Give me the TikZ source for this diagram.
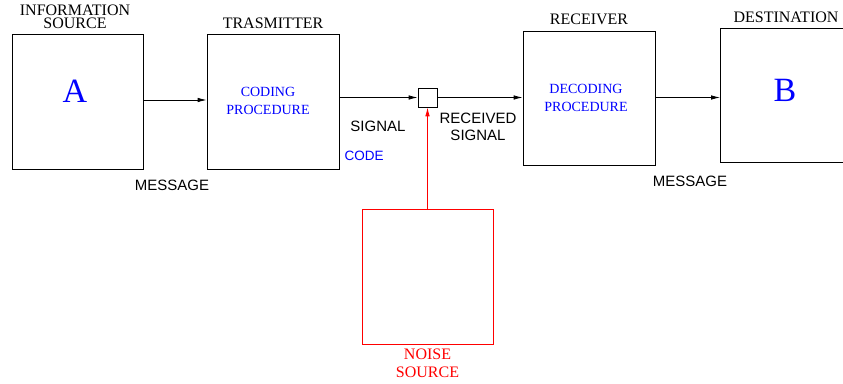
\documentclass[tikz,border=0pt]{standalone}
\usepackage{fontspec}
\setmainfont{Liberation Serif}
\setsansfont{Liberation Sans}
\usetikzlibrary{positioning,arrows.meta}

\begin{document}
\begin{tikzpicture}[
  x=1pt, y=1pt,
  block/.style={rectangle, draw, line width=0.8pt, minimum width=131pt,
                minimum height=135pt, inner sep=0pt},
  title/.style={inner sep=0pt, align=center, font=\fontsize{16}{13}\selectfont},
  tag/.style={inner sep=0pt, align=center, font=\fontsize{15}{17}\selectfont\sffamily},
  inside/.style={inner sep=0pt, align=center, text=blue,
                 font=\fontsize{14}{18}\selectfont},
  >={Latex[length=9pt,width=4.5pt]}, line width=0.8pt
]
  \clip (0,0) rectangle (843,383);

  \node[block] (src) at (77.5,281.5) {};
  \node[block, minimum width=132pt] (tx) at (273,281.5) {};
  \node[rectangle, draw, minimum size=19pt, inner sep=0pt] (mix) at (427.5,285.5) {};
  \node[block, minimum width=132pt, minimum height=134pt] (rx) at (589,285) {};
  \node[block, minimum height=134pt] (dst) at (786,288) {};
  \node[block, draw=red] (noise) at (427.5,106.5) {};

  % titles
  \node[title, above=5pt of src, xshift=-2.5pt] (srclbl) {INFORMATION\\SOURCE};
  \node[title, above=5pt of tx] (txlbl) {TRASMITTER};
  \node[title, above=5pt of rx] (rxlbl) {RECEIVER};
  \node[title, above=5pt of dst] (dstlbl) {DESTINATION};
  \node[title, text=red, below=4pt of noise, font=\fontsize{16}{18}\selectfont] (noiselbl) {NOISE\\SOURCE};

  % contents
  \node[text=blue, font=\fontsize{34}{34}\selectfont] (a) at (75,292) {A};
  \node[text=blue, font=\fontsize{34}{34}\selectfont] (b) at (785,293) {B};
  \node[inside] (coding) at (268,282) {CODING\\PROCEDURE};
  \node[inside] (decoding) at (586,285.5) {DECODING\\PROCEDURE};

  % signal names
  \node[tag] (msg1) at (172,198) {MESSAGE};
  \node[tag] (sig) at (378,257) {SIGNAL};
  \node[tag, text=blue, font=\fontsize{13.5}{16}\selectfont\sffamily] (code) at (364,227) {CODE};
  \node[tag] (rsig) at (478,256.5) {RECEIVED\\SIGNAL};
  \node[tag] (msg2) at (690,202) {MESSAGE};

  \draw[->] (src.east |- 0,283) -- (tx.west |- 0,283);
  \draw[->] (tx.east |- mix) -- (mix);
  \draw[->] (mix) -- (rx.west |- mix);
  \draw[->] (rx.east |- mix) -- (dst.west |- mix);
  \draw[->, red] (noise) -- (mix);
\end{tikzpicture}
\end{document}
